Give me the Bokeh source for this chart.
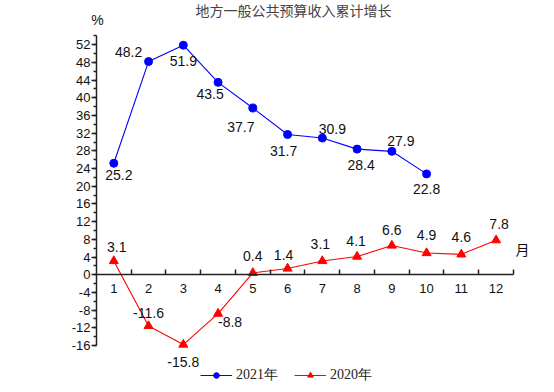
from bokeh.plotting import figure
from bokeh.models import (LinearAxis, FixedTicker, Legend, LegendItem, ColumnDataSource)
from bokeh.core.properties import value
from bokeh.embed import file_html
from bokeh.resources import INLINE

# ---- data ----
months = list(range(1, 13))
months_2021 = list(range(1, 11))
growth_2021 = [25.2, 48.2, 51.9, 43.5, 37.7, 31.7, 30.9, 28.4, 27.9, 22.8]
growth_2020 = [3.1, -11.6, -15.8, -8.8, 0.4, 1.4, 3.1, 4.1, 6.6, 4.9, 4.6, 7.8]
labels_2021 = ["25.2", "48.2", "51.9", "43.5", "37.7", "31.7", "30.9", "28.4", "27.9", "22.8"]
labels_2020 = ["3.1", "-11.6", "-15.8", "-8.8", "0.4", "1.4", "3.1", "4.1", "6.6", "4.9", "4.6", "7.8"]
y_ticks = list(range(-16, 53, 4))
y_tick_labels = [str(v) for v in y_ticks]
y_minor = list(range(-16, 55, 2))
x_tick_labels = [str(m) for m in months]
title_text = "地方一般公共预算收入累计增长"
series_names = ["2021年", "2020年"]

# label offsets (screen px) - style only
dx_2021 = [5, -20, 0, -8, -12, -4, 10, 4, 9, 0]
dy_2021 = [12, -10, 16, 12, 19, 16, -9, 16, -10, 15]
dx_2020 = [3, 0, 0, 12, 0, -4, -2, -1, 0, 0, 0, 3]
dy_2020 = [-14, -13, 17, 8, -17, -14, -17, -16, -16, -18, -17, -16]

W, H = 538, 384
p = figure(width=W, height=H, x_range=(-2.26, 13.22), y_range=(-24.83, 62.01),
           output_backend="svg", toolbar_location=None,
           x_axis_type=None, y_axis_type=None, min_border=0)
p.grid.visible = False
p.outline_line_color = None
p.background_fill_color = "white"
p.border_fill_color = "white"

BLUE = "#0000FF"
RED = "#FF0000"

yax = LinearAxis(fixed_location=0.5, bounds=(-16, 54),
                 ticker=FixedTicker(ticks=y_ticks, minor_ticks=y_minor),
                 major_label_overrides={v: s for v, s in zip(y_ticks, y_tick_labels)})
yax.major_tick_in = 0
yax.major_tick_out = 5
yax.minor_tick_in = 0
yax.minor_tick_out = 3
yax.axis_line_width = 1.5
yax.axis_line_color = "#222222"
yax.major_tick_line_color = "#222222"
yax.minor_tick_line_color = "#222222"
yax.major_tick_line_width = 1.5
yax.minor_tick_line_width = 1.5
yax.major_label_standoff = 1
yax.major_label_text_font = "Liberation Sans"
yax.major_label_text_font_size = "13px"
yax.major_label_text_color = "#111111"
p.add_layout(yax, "left")

xax = LinearAxis(fixed_location=0, bounds=(0.5, 12.5),
                 ticker=FixedTicker(ticks=months, minor_ticks=[m + 0.5 for m in months]),
                 major_label_overrides={m: s for m, s in zip(months, x_tick_labels)})
xax.major_tick_line_color = None
xax.minor_tick_in = 5
xax.minor_tick_out = 0
xax.axis_line_width = 1.5
xax.axis_line_color = "#222222"
xax.minor_tick_line_color = "#222222"
xax.minor_tick_line_width = 1.5
xax.major_label_standoff = 3
xax.major_label_text_font = "Liberation Sans"
xax.major_label_text_font_size = "13px"
xax.major_label_text_color = "#111111"
p.add_layout(xax, "below")

l21 = p.line(months_2021, growth_2021, line_color=BLUE, line_width=1.1)
s21 = p.scatter(months_2021, growth_2021, marker="circle", size=8, fill_color=BLUE, line_color=BLUE)
l20 = p.line(months, growth_2020, line_color=RED, line_width=1.1)
s20 = p.scatter(months, growth_2020, marker="triangle", size=9, fill_color=RED, line_color=RED)

src21 = ColumnDataSource(dict(x=months_2021, y=growth_2021, t=labels_2021, dx=dx_2021, dy=dy_2021))
src20 = ColumnDataSource(dict(x=months, y=growth_2020, t=labels_2020, dx=dx_2020, dy=dy_2020))
for src in (src21, src20):
    p.text(x="x", y="y", text="t", x_offset="dx", y_offset="dy", source=src,
           text_align="center", text_baseline="middle",
           text_font=value("Liberation Sans"), text_font_size="14px", text_color="#111111")

p.text(x=[6.17], y=[59.8], text=[title_text], text_align="center", text_baseline="middle",
       text_font=value("Noto Sans CJK SC"), text_font_size="14px", text_color="#444444")
p.text(x=[0.53], y=[57.5], text=["%"], text_align="center", text_baseline="middle",
       text_font=value("Liberation Sans"), text_font_size="14px", text_color="#111111")
p.text(x=[12.76], y=[5.9], text=["月"], text_align="center", text_baseline="middle",
       text_font=value("Noto Sans CJK SC"), text_font_size="14px", text_color="#111111")

legend = Legend(items=[LegendItem(label=series_names[0], renderers=[l21, s21]),
                       LegendItem(label=series_names[1], renderers=[l20, s20])],
                orientation="horizontal", location=(200, 0))
legend.border_line_color = None
legend.background_fill_alpha = 0
legend.padding = 0
legend.margin = 0
legend.spacing = 16
legend.glyph_width = 32
legend.glyph_height = 14
legend.label_standoff = 4
legend.label_text_font = "Liberation Serif"
legend.label_text_font_size = "14px"
legend.label_text_color = "#222222"
legend.label_height = 14
p.add_layout(legend, "center")

open("out.html", "w").write(file_html(p, INLINE))
